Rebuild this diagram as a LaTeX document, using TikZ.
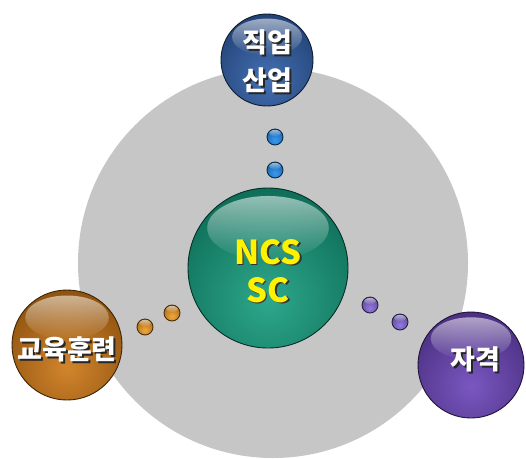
\documentclass[tikz,border=0pt]{standalone}
\usepackage{fontspec}
\usetikzlibrary{fadings}
\newfontfamily\kr{Noto Sans CJK KR}
\definecolor{bg}{HTML}{C6C6C6}
\definecolor{cblue}{HTML}{2C5CA8}
\definecolor{cgreen}{HTML}{109C7C}
\definecolor{corange}{HTML}{CC7410}
\definecolor{cpurple}{HTML}{6840B8}
\definecolor{cdot}{HTML}{1E8CF0}
\definecolor{codot}{HTML}{F09A20}
\definecolor{cpdot}{HTML}{8466D8}
\tikzset{
  sphere/.style 2 args={circle, draw=#1!30!black, line width=0.9pt, minimum size=#2, inner sep=0pt,
    path picture={
      \shade[inner color=#1!88!white, outer color=#1!65!black]
        ([yshift=-0.2*#2]path picture bounding box.center) circle (0.8*#2);
      \fill[white, path fading=south, opacity=0.55]
        ([yshift=0.25*#2]path picture bounding box.center) ellipse (0.38*#2 and 0.2*#2);
    }},
  lbl/.style={text=white, font=\kr\bfseries\fontsize{27}{38}\selectfont, align=center},
  shd/.style={text=black!85, font=\kr\bfseries\fontsize{27}{38}\selectfont, align=center},
}
\begin{document}
\begin{tikzpicture}[x=1pt,y=-1pt]
\useasboundingbox (0,0) rectangle (526,458);
\clip (0,0) rectangle (526,458);
\fill[white] (0,0) rectangle (526,458);
\node[circle, fill=bg, minimum size=390pt, inner sep=0pt] (bgc) at (273,263) {};
% center
\node[sphere={cgreen}{160pt}] (c) at (268,268) {};
\node[text=black!80, font=\kr\bfseries\fontsize{33}{38}\selectfont, align=center] at (269.5,272.5) {NCS\\SC};
\node[text=yellow, font=\kr\bfseries\fontsize{33}{38}\selectfont, align=center] (ct) at (268,271) {NCS\\SC};
% top
\node[sphere={cblue}{92pt}] (t) at (267,60) {};
\node[shd] at (269,63) {직업\\산업};
\node[lbl] (tt) at (267,61) {직업\\산업};
% left
\node[sphere={corange}{110pt}] (l) at (67,345) {};
\node[shd] at (69,351) {교육훈련};
\node[lbl] (lt) at (67,349) {교육훈련};
% right
\node[sphere={cpurple}{106pt}] (r) at (471,365) {};
\node[shd] at (477,361) {자격};
\node[lbl] (rt) at (475,359) {자격};
% dots
\node[sphere={cdot}{16pt}] (b1) at (275,137) {};
\node[sphere={cdot}{16pt}] (b2) at (275,170) {};
\node[sphere={codot}{16pt}] (o1) at (145,327) {};
\node[sphere={codot}{16pt}] (o2) at (172,313) {};
\node[sphere={cpdot}{16pt}] (p1) at (370,305) {};
\node[sphere={cpdot}{16pt}] (p2) at (400,322) {};
\end{tikzpicture}
\end{document}
